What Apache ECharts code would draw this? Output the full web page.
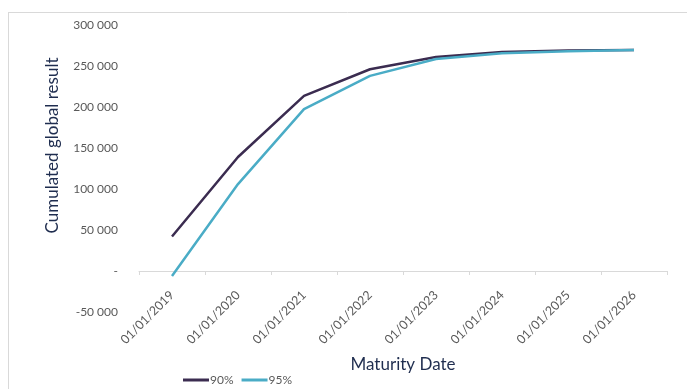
<!DOCTYPE html>
<html>
<head>
<meta charset="utf-8">
<script src="https://cdn.jsdelivr.net/npm/echarts@6/dist/echarts.min.js"></script>
<style>
  html, body { margin: 0; padding: 0; background: #fff; }
  #chart { width: 687px; height: 389px; }
</style>
</head>
<body>
<div id="chart"></div>
<script>
// Maturity dates on the category axis
const maturityDates = ['01/01/2019', '01/01/2020', '01/01/2021', '01/01/2022',
                       '01/01/2023', '01/01/2024', '01/01/2025', '01/01/2026'];

// Cumulated global result per confidence level
const result90 = [42000, 139000, 213500, 246000, 261000, 267000, 269000, 269500];
const result95 = [-6000, 106000, 197500, 238000, 258500, 265500, 268000, 269500];

// Y axis range and step
const yMin = -50000;
const yMax = 300000;
const yStep = 50000;

const FONT = 'Lato, "Open Sans", sans-serif';
const NAVY = '#1f2d4f';

function formatValue(v) {
  if (v === 0) return '-';
  const sign = v < 0 ? '-' : '';
  const s = String(Math.abs(v));
  return sign + s.replace(/\B(?=(\d{3})+(?!\d))/g, ' ');
}

const chart = echarts.init(document.getElementById('chart'), null, { renderer: 'canvas' });

chart.setOption({
  animation: false,
  backgroundColor: '#ffffff',
  textStyle: { fontFamily: FONT },
  graphic: [
    // outer frame (top and left edges)
    { type: 'line', shape: { x1: 8, y1: 12.5, x2: 687, y2: 12.5 },
      style: { stroke: '#d9d9d9', lineWidth: 1 }, silent: true },
    { type: 'line', shape: { x1: 8.5, y1: 12, x2: 8.5, y2: 389 },
      style: { stroke: '#d9d9d9', lineWidth: 1 }, silent: true }
  ],
  grid: { left: 139, right: 20, top: 25, bottom: 77, containLabel: false, outerBoundsMode: 'none' },
  legend: {
    left: 178, top: 369,
    itemWidth: 26, itemHeight: 3, itemGap: 8,
    icon: 'rect',
    textStyle: { color: '#595959', fontSize: 12, fontFamily: FONT, padding: [0, 0, 0, -4] },
    data: ['90%', '95%']
  },
  xAxis: {
    type: 'category',
    data: maturityDates,
    boundaryGap: true,
    name: 'Maturity Date',
    nameLocation: 'middle',
    nameGap: 44,
    nameTextStyle: { color: NAVY, fontSize: 17, fontFamily: FONT },
    axisLine: { onZero: true, lineStyle: { color: '#d9d9d9', width: 1 } },
    axisTick: { show: true, inside: false, length: 4, lineStyle: { color: '#d9d9d9' } },
    axisLabel: { rotate: 45, margin: -19, color: '#595959', fontSize: 12.5, fontFamily: FONT },
    splitLine: { show: false }
  },
  yAxis: {
    type: 'value',
    min: yMin, max: yMax, interval: yStep,
    name: 'Cumulated global result',
    nameLocation: 'middle',
    nameGap: 78,
    nameTextStyle: { color: NAVY, fontSize: 17, fontFamily: FONT, padding: [0, 0, 0, 46] },
    axisLine: { show: false },
    axisTick: { show: false },
    splitLine: { show: false },
    axisLabel: { color: '#595959', fontSize: 12, fontFamily: FONT, margin: 21,
                 formatter: formatValue }
  },
  series: [
    { name: '90%', type: 'line', data: result90, symbol: 'none',
      lineStyle: { color: '#3b2c50', width: 2.5 }, itemStyle: { color: '#3b2c50' } },
    { name: '95%', type: 'line', data: result95, symbol: 'none',
      lineStyle: { color: '#4aacc6', width: 2.5 }, itemStyle: { color: '#4aacc6' } }
  ]
});
</script>
</body>
</html>
